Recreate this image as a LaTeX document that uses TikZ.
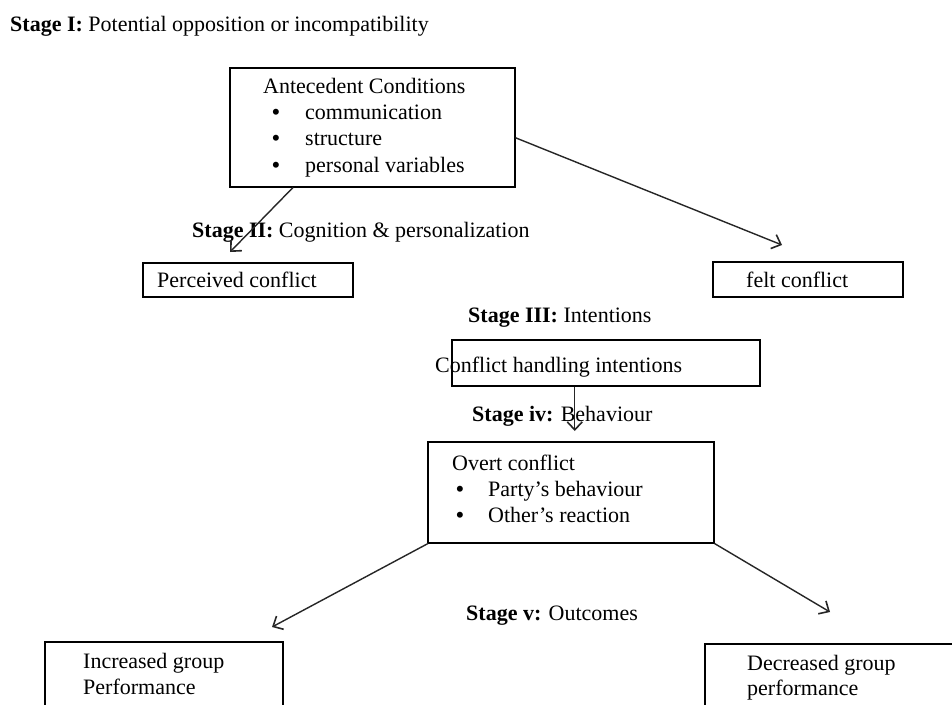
\documentclass[tikz,border=0pt]{standalone}
\usepackage{fontspec}
\setmainfont{Liberation Serif}
\usetikzlibrary{arrows.meta}
\begin{document}
\begin{tikzpicture}[x=1pt,y=-1pt,
  box/.style={draw=black,line width=1.5pt,fill=none,inner sep=0pt,anchor=north west},
  txt/.style={inner sep=0pt,anchor=base west,text height=15pt,text depth=4pt,font=\fontsize{22}{26.5}\selectfont},
  arr/.style={draw=black!85,line width=1.4pt,-{Straight Barb[length=8pt,width=15pt,line width=1.6pt]}}]
\path[use as bounding box,clip] (0,0) rectangle (952,704);
\fill[white] (0,0) rectangle (952,704);

% boxes
\node[box,minimum width=285pt,minimum height=119pt] (ante) at (229,67) {};
\node[box,minimum width=210pt,minimum height=34pt] (perc) at (142,262) {};
\node[box,minimum width=190pt,minimum height=35pt] (felt) at (712,261) {};
\node[box,minimum width=308pt,minimum height=46pt] (conf) at (451,339) {};
\node[box,minimum width=286pt,minimum height=101pt] (overt) at (427,441) {};
\node[box,minimum width=238pt,minimum height=90pt] (inc) at (44,641) {};
\node[box,minimum width=280pt,minimum height=90pt] (dec) at (704,643) {};

% texts
\node[txt] (s1) at (10,31) {\textbf{Stage I:} Potential opposition or incompatibility};
\node[txt] (a0) at (263,93) {Antecedent Conditions};
\node[txt] (a1) at (272,119) {\makebox[33pt][l]{\textbf{\textbullet}}communication};
\node[txt] (a2) at (272,145) {\makebox[33pt][l]{\textbf{\textbullet}}structure};
\node[txt] (a3) at (272,172) {\makebox[33pt][l]{\textbf{\textbullet}}personal variables};
\node[txt] (s2) at (192,237) {\textbf{Stage II:} Cognition \& personalization};
\node[txt] (pt) at (157,287) {Perceived conflict};
\node[txt] (ft) at (746,287) {felt conflict};
\node[txt] (s3) at (468,322) {\textbf{Stage III:} Intentions};
\node[txt] (ct) at (435,372) {Conflict handling intentions};
\node[txt] (s4) at (472,421) {\textbf{Stage iv:} Behaviour};
\node[txt] (o0) at (452,470) {Overt conflict};
\node[txt] (o1) at (456,496) {\makebox[32pt][l]{\textbf{\textbullet}}Party’s behaviour};
\node[txt] (o2) at (456,522) {\makebox[32pt][l]{\textbf{\textbullet}}Other’s reaction};
\node[txt] (s5) at (466,620) {\textbf{Stage v:} Outcomes};
\node[txt] (i1) at (83,668) {Increased group};
\node[txt] (i2) at (83,694) {Performance};
\node[txt] (d1) at (747,670) {Decreased group};
\node[txt] (d2) at (747,695) {performance};

% connectors
\draw[arr] ([xshift=64pt]ante.south west) -- ([xshift=88pt,yshift=10pt]perc.north west);
\draw[arr] ([yshift=-10.5pt]ante.east) -- ([xshift=70pt,yshift=16pt]felt.north west);
\draw[arr] ([xshift=-31pt]conf.south) -- ([xshift=4pt,yshift=10pt]overt.north);
\draw[arr] ([xshift=1pt]overt.south west) -- ([xshift=228pt,yshift=14pt]inc.north west);
\draw[arr] (overt.south east) -- ([xshift=126pt,yshift=31pt]dec.north west);
\end{tikzpicture}
\end{document}
